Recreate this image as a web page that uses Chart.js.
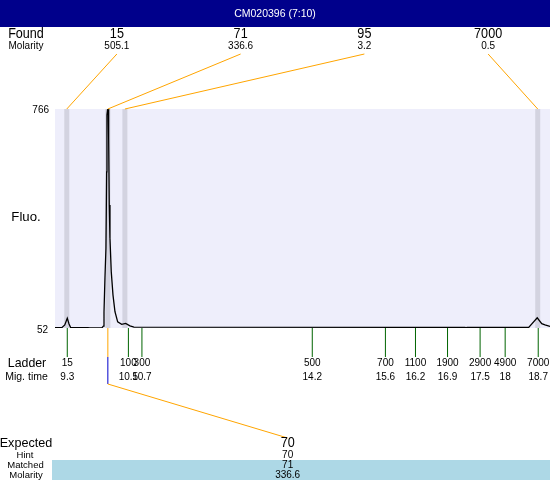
<!DOCTYPE html>
<html>
<head>
<meta charset="utf-8">
<script src="https://cdn.jsdelivr.net/npm/chart.js@4.4.1/dist/chart.umd.min.js"></script>
<style>
  body { margin: 0; background: #fff; }
  canvas { display: block; }
</style>
</head>
<body>
<canvas id="trace" width="550" height="480"></canvas>
<script>
const sampleName = 'CM020396 (7:10)';
const foundSizes = [15, 71, 95, 7000];
const foundMolarity = [505.1, 336.6, 3.2, 0.5];
const foundTimes = [9.29, 10.11, 10.45, 18.69];
const ladderSizes = [15, 100, 300, 500, 700, 1100, 1900, 2900, 4900, 7000];
const ladderTimes = [9.30, 10.52, 10.79, 14.19, 15.65, 16.25, 16.89, 17.54, 18.04, 18.70];
const ladderTimeLabels = ['9.3', '10.5', '10.7', '14.2', '15.6', '16.2', '16.9', '17.5', '18', '18.7'];
const expectedSizes = [70];
const hintSizes = [70];
const matchedSizes = [71];
const matchedMolarity = [336.6];
const matchedTimes = [10.11];
const fluoRange = [52, 766];
const timeRange = [9.055, 18.935];
const traceTimes = [9.055, 9.19, 9.25, 9.30, 9.335, 9.365, 9.71, 9.75, 9.99, 10.02,
  10.033, 10.052, 10.072, 10.086, 10.092, 10.106, 10.118, 10.126, 10.138, 10.152,
  10.178, 10.212, 10.252, 10.306, 10.386, 10.466, 10.551, 10.631, 17.24, 17.258,
  17.278, 18.51, 18.68, 18.77, 18.835, 18.935];
const traceValues = [53, 53, 62, 84, 65, 54, 53, 52, 52, 58,
  104, 215, 313, 561, 746, 766, 766, 671, 453, 345,
  235, 160, 105, 72, 64, 67, 59, 55, 54, 52,
  54, 54, 85, 66, 62, 57];

const FONT = '"Liberation Sans", Arial, sans-serif';

function txt(ctx, str, x, y, size, align, sx) {
  ctx.save();
  ctx.font = size + 'px ' + FONT;
  ctx.textAlign = align || 'center';
  ctx.textBaseline = 'middle';
  ctx.translate(x, y);
  ctx.scale(sx || 1, 1);
  ctx.fillText(str, 0, 0);
  ctx.restore();
}

function seg(ctx, x1, y1, x2, y2, color) {
  ctx.strokeStyle = color;
  ctx.beginPath();
  ctx.moveTo(x1, y1);
  ctx.lineTo(x2, y2);
  ctx.stroke();
}

const decor = {
  id: 'decor',
  beforeDraw(chart) {
    const { ctx, chartArea: a, scales } = chart;
    ctx.save();
    ctx.fillStyle = '#fff';
    ctx.fillRect(0, 0, chart.width, chart.height);
    ctx.fillStyle = '#EEEEFB';
    ctx.fillRect(a.left, a.top, a.width, a.height);
    // found peak bands
    ctx.fillStyle = '#D3D3E0';
    foundTimes.forEach(t => {
      const x = scales.x.getPixelForValue(t);
      ctx.fillRect(x - 2.5, a.top, 5, a.height);
    });
    ctx.restore();
  },
  afterDraw(chart) {
    const { ctx, chartArea: a, scales } = chart;
    ctx.save();
    ctx.lineWidth = 1;

    // header
    ctx.fillStyle = '#00008B';
    ctx.fillRect(0, 0, chart.width, 27);
    ctx.fillStyle = '#fff';
    txt(ctx, sampleName, chart.width / 2, 14, 10.5);

    ctx.fillStyle = '#000';
    txt(ctx, 'Found', 26, 34, 14, 'center', 0.9);
    txt(ctx, 'Molarity', 26, 46.5, 10);
    txt(ctx, '766', 49, 110, 10, 'right');
    txt(ctx, '52', 48, 330, 10, 'right');
    txt(ctx, 'Fluo.', 26, 218, 12, 'center', 1.1);
    txt(ctx, 'Ladder', 27, 363, 13, 'center', 0.95);
    txt(ctx, 'Mig. time', 26.5, 377, 10.5);
    txt(ctx, 'Expected', 26, 443.5, 13, 'center', 0.97);
    txt(ctx, 'Hint', 25, 455, 9.5);
    txt(ctx, 'Matched', 25.5, 465, 9.5);
    txt(ctx, 'Molarity', 26, 475, 9.5);

    // found peaks and links to the trace
    const step = a.width / foundSizes.length;
    foundSizes.forEach((s, i) => {
      const cx = a.left + (i + 0.5) * step;
      ctx.fillStyle = '#000';
      txt(ctx, String(s), cx, 34, 14, 'center', 0.9);
      txt(ctx, foundMolarity[i].toFixed(1), cx, 46.5, 10);
      seg(ctx, cx, 54, scales.x.getPixelForValue(foundTimes[i]), a.top, '#FFA500');
    });

    // ladder
    ladderSizes.forEach((s, i) => {
      const x = scales.x.getPixelForValue(ladderTimes[i]);
      seg(ctx, x, a.bottom, x, 357, '#006400');
      ctx.fillStyle = '#000';
      txt(ctx, String(s), x, 363, 10);
      txt(ctx, ladderTimeLabels[i], x, 377, 10);
    });

    // expected / matched
    ctx.fillStyle = '#ADD8E6';
    ctx.fillRect(52, 460, chart.width - 52, 20);
    const estep = a.width / expectedSizes.length;
    expectedSizes.forEach((s, i) => {
      const ex = a.left + (i + 0.47) * estep;
      const mx = scales.x.getPixelForValue(matchedTimes[i]);
      seg(ctx, mx, a.bottom, mx, 357, '#FFA500');
      seg(ctx, mx, 357, mx, 384, '#0000CC');
      seg(ctx, mx, 384, ex, 438, '#FFA500');
      ctx.fillStyle = '#000';
      txt(ctx, String(s), ex, 443.5, 14, 'center', 0.9);
      txt(ctx, String(hintSizes[i]), ex, 455, 10);
      txt(ctx, String(matchedSizes[i]), ex, 465, 10);
      txt(ctx, matchedMolarity[i].toFixed(1), ex, 475, 10);
    });
    ctx.restore();
  }
};

new Chart(document.getElementById('trace'), {
  type: 'line',
  data: {
    datasets: [{
      label: 'Fluo.',
      data: traceTimes.map((t, i) => ({ x: t, y: traceValues[i] })),
      borderColor: '#000',
      borderWidth: 1.3,
      pointRadius: 0,
      tension: 0,
      fill: false
    }]
  },
  options: {
    responsive: false,
    animation: false,
    layout: { padding: { left: 55, right: 0, top: 109, bottom: 152 } },
    scales: {
      x: { type: 'linear', min: timeRange[0], max: timeRange[1], display: false },
      y: { min: fluoRange[0], max: fluoRange[1], display: false }
    },
    plugins: {
      legend: { display: false },
      tooltip: { enabled: false }
    }
  },
  plugins: [decor]
});
</script>
</body>
</html>
